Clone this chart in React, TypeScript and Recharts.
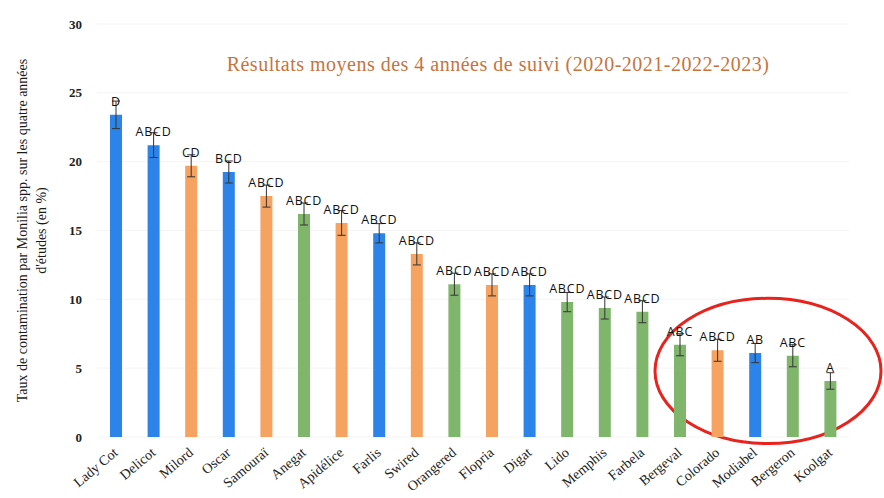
import React from "react";
import { BarChart, Bar, XAxis, YAxis, Cell, ErrorBar, LabelList, CartesianGrid, ReferenceArea, Customized } from "recharts";

const varieties = ["Lady Cot", "Delicot", "Milord", "Oscar", "Samouraï", "Anegat", "Apidélice", "Farlis", "Swired", "Orangered", "Flopria", "Digat", "Lido", "Memphis", "Farbela", "Bergeval", "Colorado", "Modiabel", "Bergeron", "Koolgat"];
const rates = [23.4, 21.2, 19.7, 19.25, 17.5, 16.2, 15.55, 14.8, 13.3, 11.1, 11.05, 11.05, 9.8, 9.37, 9.1, 6.7, 6.3, 6.1, 5.9, 4.07];
const errors = [1.0, 0.9, 0.8, 0.8, 0.8, 0.8, 0.9, 0.7, 0.8, 0.8, 0.8, 0.8, 0.7, 0.8, 0.8, 0.8, 0.8, 0.7, 0.8, 0.6];
const groups = ["D", "ABCD", "CD", "BCD", "ABCD", "ABCD", "ABCD", "ABCD", "ABCD", "ABCD", "ABCD", "ABCD", "ABCD", "ABCD", "ABCD", "ABC", "ABCD", "AB", "ABC", "A"];
const colorKeys = ["b", "b", "o", "b", "o", "g", "o", "b", "o", "g", "o", "b", "g", "g", "g", "g", "o", "b", "g", "g"];
const yTicks = [0, 5, 10, 15, 20, 25, 30];

const palette: Record<string, string> = { b: "#2d84e8", o: "#f6a261", g: "#80b66c" };

const data = varieties.map((name, i) => ({ name, rate: rates[i], err: errors[i], group: groups[i], c: colorKeys[i] }));

const XTick = (props: any) => {
  const { x, y, payload } = props;
  return (
    <text
      x={0}
      y={0}
      transform={`translate(${x + 3},${y + 9}) rotate(-40)`}
      textAnchor="end"
      fontFamily="'Liberation Serif', serif"
      fontSize={14}
      fill="#222"
    >
      {payload.value}
    </text>
  );
};

const GroupLabel = (props: any) => {
  const { x, y, width, index } = props;
  return (
    <text
      x={x + width / 2}
      y={y - 9}
      textAnchor="middle"
      fontFamily="'Open Sans', sans-serif"
      fontSize={12.5}
      letterSpacing={0.8}
      fill="#111"
    >
      {groups[index]}
    </text>
  );
};

const YLabel = (props: any) => {
  const vb = props.viewBox || {};
  const cy = vb.y + vb.height / 2;
  return (
    <g>
      <text
        transform={`translate(27,${cy}) rotate(-90)`}
        textAnchor="middle"
        fontFamily="'Liberation Serif', serif"
        fontSize={14}
        fill="#1a1a1a"
      >
        Taux de contamination par Monilia spp. sur les quatre années
      </text>
      <text
        transform={`translate(46,${cy}) rotate(-90)`}
        textAnchor="middle"
        fontFamily="'Liberation Serif', serif"
        fontSize={14}
        fill="#1a1a1a"
      >
        d'études (en %)
      </text>
    </g>
  );
};

const Ellipse = (props: any) => {
  const { x, y, width, height } = props;
  const cx = x + width / 2 + 13;
  const cy = y + height / 2;
  return (
    <ellipse cx={cx} cy={cy} rx={width / 2 + 19} ry={height / 2 + 1} fill="none" stroke="#e8221d" strokeWidth={3} />
  );
};

const Title = () => (
  <text
    x={498}
    y={71}
    textAnchor="middle"
    fontFamily="'Liberation Serif', serif"
    fontSize={20}
    letterSpacing={0.5}
    fill="#c8733e"
  >
    Résultats moyens des 4 années de suivi (2020-2021-2022-2023)
  </text>
);

export default function App() {
  return (
    <div style={{ position: "absolute", left: 0, top: 0, background: "#fff" }}>
      <BarChart width={884} height={498} data={data} margin={{ top: 24, right: 35, left: 0, bottom: 0 }}>
        <CartesianGrid vertical={false} stroke="#f4f4f4" />
        <XAxis dataKey="name" interval={0} tick={<XTick />} axisLine={false} tickLine={false} height={61} />
        <YAxis
          domain={[0, 30]}
          ticks={yTicks}
          width={97}
          axisLine={false}
          tickLine={false}
          tickMargin={9}
          tick={{ fontFamily: "'Liberation Serif', serif", fontSize: 13, fontWeight: "bold", fill: "#222" }}
          label={<YLabel />}
        />
        <Bar dataKey="rate" barSize={12} isAnimationActive={false}>
          {data.map((d, i) => (
            <Cell key={i} fill={palette[d.c]} />
          ))}
          <ErrorBar dataKey="err" width={4} stroke="#333" strokeWidth={1} />
          <LabelList dataKey="group" content={<GroupLabel />} />
        </Bar>
        <ReferenceArea x1="Bergeval" x2="Koolgat" y1={-0.4} y2={10.0} ifOverflow="visible" shape={<Ellipse />} />
        <Customized component={Title} />
      </BarChart>
    </div>
  );
}
